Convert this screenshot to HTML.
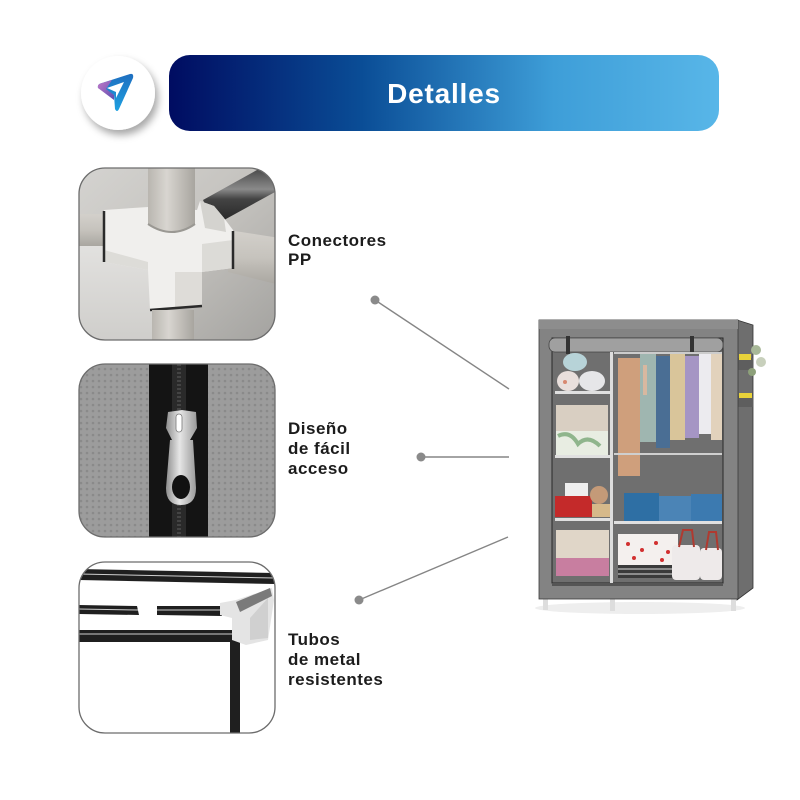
<!DOCTYPE html>
<html><head><meta charset="utf-8"><style>
html,body{margin:0;padding:0;background:#fff;}
svg{display:block;}
text{font-family:"Liberation Sans",Arial,sans-serif;font-weight:bold;}
</style></head><body>
<svg width="800" height="800" viewBox="0 0 800 800" xmlns="http://www.w3.org/2000/svg">
<defs>
  <linearGradient id="hdr" x1="0" y1="0" x2="1" y2="0">
    <stop offset="0" stop-color="#000c61"/>
    <stop offset="0.35" stop-color="#0a4d96"/>
    <stop offset="0.7" stop-color="#3e9ed8"/>
    <stop offset="1" stop-color="#58b6e8"/>
  </linearGradient>
  <linearGradient id="logoL" x1="0" y1="0" x2="1" y2="1">
    <stop offset="0" stop-color="#c478c8"/>
    <stop offset="1" stop-color="#5a4fb0"/>
  </linearGradient>
  <linearGradient id="logoR" x1="0" y1="0" x2="0" y2="1">
    <stop offset="0" stop-color="#1f6fc0"/>
    <stop offset="1" stop-color="#1ea0e0"/>
  </linearGradient>
  <filter id="sh" x="-30%" y="-30%" width="170%" height="170%">
    <feDropShadow dx="3" dy="5" stdDeviation="4" flood-color="#000" flood-opacity="0.35"/>
  </filter>
  <linearGradient id="b1bg" x1="0" y1="0" x2="1" y2="1">
    <stop offset="0" stop-color="#d4d3d0"/>
    <stop offset="0.5" stop-color="#c4c2be"/>
    <stop offset="1" stop-color="#a4a3a0"/>
  </linearGradient>
  <linearGradient id="b1low" x1="0" y1="0" x2="0" y2="1">
    <stop offset="0" stop-color="#e2e1df"/>
    <stop offset="1" stop-color="#cfcecb"/>
  </linearGradient>
  <linearGradient id="pipeV" x1="0" y1="0" x2="1" y2="0">
    <stop offset="0" stop-color="#b9b6b0"/>
    <stop offset="0.4" stop-color="#d8d5d0"/>
    <stop offset="1" stop-color="#a8a59f"/>
  </linearGradient>
  <linearGradient id="pipeH" x1="0" y1="0" x2="0" y2="1">
    <stop offset="0" stop-color="#d3d0cb"/>
    <stop offset="0.5" stop-color="#c6c3bd"/>
    <stop offset="1" stop-color="#a9a6a0"/>
  </linearGradient>
  <linearGradient id="dark" x1="0" y1="0" x2="0" y2="1">
    <stop offset="0" stop-color="#2e2e2e"/>
    <stop offset="0.45" stop-color="#8a8a8a"/>
    <stop offset="0.6" stop-color="#444"/>
    <stop offset="1" stop-color="#222"/>
  </linearGradient>
  <linearGradient id="silver" x1="0" y1="0" x2="1" y2="0">
    <stop offset="0" stop-color="#8e8e8e"/>
    <stop offset="0.45" stop-color="#e6e6e6"/>
    <stop offset="1" stop-color="#9a9a9a"/>
  </linearGradient>
  <pattern id="dots" width="6" height="6" patternUnits="userSpaceOnUse">
    <rect width="6" height="6" fill="#9c9c9c"/>
    <circle cx="3" cy="3" r="1.3" fill="#8a8a8a"/>
  </pattern>
  <clipPath id="c1"><rect x="79" y="168" width="196" height="172" rx="26"/></clipPath>
  <clipPath id="c2"><rect x="79" y="364" width="196" height="173" rx="26"/></clipPath>
  <clipPath id="c3"><rect x="79" y="562" width="196" height="171" rx="26"/></clipPath>
</defs>

<!-- Logo -->
<circle cx="118" cy="93" r="37" fill="#fff" filter="url(#sh)"/>
<path d="M98 88 Q97 84 102 83 L130 74 Q134 73 133 78 L119 109 Q117 113 115 109 L114 95 Z" fill="url(#logoR)"/>
<path d="M98 88 Q97 84 102 83 L112 80 L106 89 L114 95 L114 100 Z" fill="url(#logoL)"/>
<path d="M107 88 L124 82 L116 98 L116 92 Z" fill="#fff"/>

<!-- Header -->
<rect x="169" y="55" width="550" height="76" rx="21" fill="url(#hdr)"/>
<text x="444" y="103" font-size="28" fill="#fff" text-anchor="middle" letter-spacing="0.8">Detalles</text>

<!-- Box 1: connector -->
<g clip-path="url(#c1)">
  <rect x="79" y="168" width="196" height="172" fill="url(#b1bg)"/>
  <rect x="79" y="245" width="75" height="95" fill="url(#b1low)"/>
  <polygon points="203,200 275,160 275,192 215,225" fill="url(#dark)"/>
  <rect x="70" y="214" width="40" height="32" fill="url(#pipeH)"/>
  <polygon points="228,230 280,238 280,285 228,272" fill="url(#pipeH)"/>
  <polygon points="104,210 148,207 197,210 200,201 214,206 224,218 233,230 233,268 202,272 202,306 150,310 148,270 104,262" fill="#f0efed"/>
  <polygon points="200,201 214,206 224,218 226,232 205,228" fill="#d4d3cf"/>
  <polygon points="202,272 233,268 233,240 202,244" fill="#dcdbd7"/>
  <polygon points="175,272 202,272 202,306 175,308" fill="#dedcd8"/>
  <polygon points="104,250 148,262 148,270 104,262" fill="#dddcd8"/>
  <line x1="104" y1="211" x2="104" y2="262" stroke="#2a2a2a" stroke-width="2.5"/>
  <line x1="233" y1="231" x2="233" y2="269" stroke="#2a2a2a" stroke-width="2.5"/>
  <line x1="150" y1="310" x2="202" y2="306" stroke="#2a2a2a" stroke-width="2.5"/>
  <path d="M148 160 L195 160 L195 224 Q172 240 148 224 Z" fill="url(#pipeV)"/>
  <path d="M148 224 Q172 240 195 224" stroke="#9a9893" stroke-width="2" fill="none"/>
  <rect x="152" y="310" width="42" height="40" fill="url(#pipeV)"/>
</g>
<rect x="79" y="168" width="196" height="172" rx="26" fill="none" stroke="#6c6c6c" stroke-width="1.3"/>

<!-- Box 2: zipper -->
<g clip-path="url(#c2)">
  <rect x="79" y="364" width="196" height="173" fill="url(#dots)"/>
  <rect x="149" y="364" width="59" height="173" fill="#141414"/>
  <rect x="172" y="364" width="14" height="173" fill="#2a2a2a"/>
  <line x1="179" y1="364" x2="179" y2="537" stroke="#444" stroke-width="4" stroke-dasharray="2 2"/>
  <path d="M168 412 L182 410 L196 412 L197 428 L190 440 L172 440 L166 428 Z" fill="url(#silver)"/>
  <rect x="176" y="414" width="6" height="18" rx="3" fill="#fff" stroke="#777" stroke-width="0.8"/>
  <path d="M170 440 L193 440 L196 488 Q196 505 181 505 Q166 505 166 488 Z" fill="url(#silver)"/>
  <ellipse cx="181" cy="487" rx="9" ry="12" fill="#111"/>
</g>
<rect x="79" y="364" width="196" height="173" rx="26" fill="none" stroke="#6c6c6c" stroke-width="1.3"/>

<!-- Box 3: metal tubes -->
<g clip-path="url(#c3)">
  <rect x="79" y="562" width="196" height="171" fill="#fff"/>
  <polygon points="79,569 275,573 275,584 79,580" fill="#1f1f1f"/>
  <line x1="79" y1="574" x2="275" y2="578" stroke="#cfcfcf" stroke-width="1"/>
  <polygon points="79,605 137,606 139,615 79,614" fill="#1f1f1f"/>
  <line x1="79" y1="609" x2="138" y2="610" stroke="#cfcfcf" stroke-width="1"/>
  <polygon points="157,606 222,606 222,616 157,615" fill="#1f1f1f"/>
  <line x1="157" y1="610" x2="222" y2="610" stroke="#cfcfcf" stroke-width="1"/>
  <rect x="79" y="630" width="166" height="12" fill="#1f1f1f"/>
  <line x1="79" y1="634" x2="245" y2="634" stroke="#cfcfcf" stroke-width="1"/>
  <rect x="230" y="640" width="10" height="95" fill="#1f1f1f"/>
  <polygon points="220,603 236,600 272,588 274,600 268,640 246,645 232,640 232,618 220,615" fill="#e4e4e4"/>
  <polygon points="250,618 268,598 268,638 250,640" fill="#d0d0d0"/>
  <polygon points="236,602 270,588 272,596 240,612" fill="#7a7a7a"/>
</g>
<rect x="79" y="562" width="196" height="171" rx="26" fill="none" stroke="#6c6c6c" stroke-width="1.3"/>

<!-- Labels -->
<g fill="#1c1c1c" font-size="17" letter-spacing="0.5">
  <text x="288" y="246">Conectores</text>
  <text x="288" y="265">PP</text>
  <text x="288" y="434">Diseño</text>
  <text x="288" y="454">de fácil</text>
  <text x="288" y="474">acceso</text>
  <text x="288" y="645">Tubos</text>
  <text x="288" y="665">de metal</text>
  <text x="288" y="685">resistentes</text>
</g>

<!-- Connector lines -->
<g stroke="#858585" stroke-width="1.4">
  <line x1="375" y1="300" x2="509" y2="389"/>
  <line x1="421" y1="457" x2="509" y2="457"/>
  <line x1="359" y1="600" x2="508" y2="537"/>
</g>
<g fill="#8a8a8a">
  <circle cx="375" cy="300" r="4.5"/>
  <circle cx="421" cy="457" r="4.5"/>
  <circle cx="359" cy="600" r="4.5"/>
</g>

<!-- Wardrobe -->
<g>
  <ellipse cx="640" cy="608" rx="105" ry="6" fill="#eee"/>
  <rect x="543" y="596" width="5" height="14" fill="#ddd"/>
  <rect x="610" y="597" width="5" height="14" fill="#ddd"/>
  <rect x="731" y="597" width="5" height="14" fill="#ddd"/>
  <polygon points="737,320 753,325 753,588 737,600" fill="#6e6e6e" stroke="#333" stroke-width="0.8"/>
  <rect x="738" y="358" width="15" height="12" fill="#5e5e5e"/>
  <rect x="739" y="354" width="12" height="6" fill="#e8d23a"/>
  <rect x="738" y="396" width="15" height="11" fill="#5e5e5e"/>
  <rect x="739" y="393" width="13" height="5" fill="#e8d23a"/>
  <circle cx="756" cy="350" r="5" fill="#a8b898"/>
  <circle cx="761" cy="362" r="5" fill="#c8d0bc"/>
  <circle cx="752" cy="372" r="4" fill="#8da07a"/>
  <rect x="539" y="320" width="199" height="279" fill="#838383" stroke="#3a3a3a" stroke-width="0.8"/>
  <rect x="539" y="320" width="199" height="9" fill="#8d8d8d"/>
  <rect x="552" y="338" width="171" height="245" fill="#6f6f6f" stroke="#2a2a2a" stroke-width="1"/>
  <rect x="549" y="338" width="174" height="14" rx="6" fill="#a0a0a0" stroke="#444" stroke-width="0.8"/>
  <rect x="566" y="336" width="4" height="18" fill="#333"/>
  <rect x="690" y="336" width="4" height="18" fill="#333"/>
  <rect x="610" y="352" width="3" height="231" fill="#ddd"/>
  <ellipse cx="575" cy="362" rx="12" ry="9" fill="#b7d3d8"/>
  <ellipse cx="568" cy="381" rx="11" ry="10" fill="#e9dfdc"/>
  <ellipse cx="592" cy="381" rx="13" ry="10" fill="#e6e6e8"/>
  <circle cx="565" cy="382" r="2" fill="#d88870"/>
  <rect x="555" y="391" width="56" height="3" fill="#e0e0e0"/>
  <rect x="556" y="405" width="52" height="26" fill="#d9cfc2"/>
  <rect x="556" y="431" width="52" height="24" fill="#e8ede2"/>
  <path d="M558 436 Q570 430 578 444 Q588 434 600 446" stroke="#8fb58c" stroke-width="4" fill="none"/>
  <rect x="555" y="455" width="56" height="3" fill="#e0e0e0"/>
  <rect x="565" y="483" width="23" height="13" fill="#eee"/>
  <rect x="555" y="496" width="37" height="21" fill="#c42a2a"/>
  <circle cx="599" cy="495" r="9" fill="#c49a78"/>
  <rect x="592" y="504" width="18" height="13" fill="#d6b98a"/>
  <rect x="555" y="518" width="56" height="3" fill="#e0e0e0"/>
  <rect x="556" y="530" width="53" height="28" fill="#e0d6c8"/>
  <rect x="556" y="558" width="53" height="18" fill="#c87ea0"/>
  <rect x="614" y="352" width="108" height="2" fill="#ccc"/>
  <rect x="618" y="358" width="22" height="118" fill="#cf9f7c"/>
  <rect x="640" y="354" width="16" height="88" fill="#9fb6b0"/>
  <rect x="643" y="365" width="4" height="30" fill="#d8b8a0"/>
  <rect x="656" y="356" width="14" height="92" fill="#4a6e94"/>
  <rect x="670" y="354" width="15" height="86" fill="#d9c59a"/>
  <rect x="685" y="356" width="14" height="82" fill="#a595c4"/>
  <rect x="699" y="354" width="12" height="80" fill="#ecebef"/>
  <rect x="711" y="354" width="11" height="86" fill="#e2d2bc"/>
  <rect x="614" y="453" width="108" height="2" fill="#cfcfcf"/>
  <rect x="624" y="493" width="35" height="28" fill="#2e6fa4"/>
  <rect x="659" y="496" width="32" height="25" fill="#4b84b6"/>
  <rect x="691" y="494" width="31" height="27" fill="#3c7ab0"/>
  <rect x="614" y="521" width="108" height="3" fill="#e0e0e0"/>
  <rect x="618" y="534" width="60" height="31" fill="#f4f0ee"/>
  <g fill="#d23030"><circle cx="628" cy="544" r="2"/><circle cx="642" cy="550" r="2"/><circle cx="656" cy="543" r="2"/><circle cx="668" cy="552" r="2"/><circle cx="634" cy="558" r="2"/><circle cx="662" cy="560" r="2"/></g>
  <rect x="618" y="565" width="60" height="13" fill="#3a3a3a"/>
  <line x1="618" y1="569" x2="678" y2="569" stroke="#ddd" stroke-width="1"/>
  <line x1="618" y1="574" x2="678" y2="574" stroke="#ddd" stroke-width="1"/>
  <rect x="672" y="545" width="28" height="35" rx="4" fill="#eeeaea"/>
  <rect x="700" y="548" width="22" height="32" rx="4" fill="#eeeaea"/>
  <path d="M679 547 L683 530 L692 530 L694 547" stroke="#b03a30" stroke-width="2" fill="none"/>
  <path d="M706 550 L709 532 L716 532 L718 550" stroke="#b03a30" stroke-width="2" fill="none"/>
  <rect x="552" y="583" width="171" height="3" fill="#555"/>
</g>
</svg>
</body></html>
